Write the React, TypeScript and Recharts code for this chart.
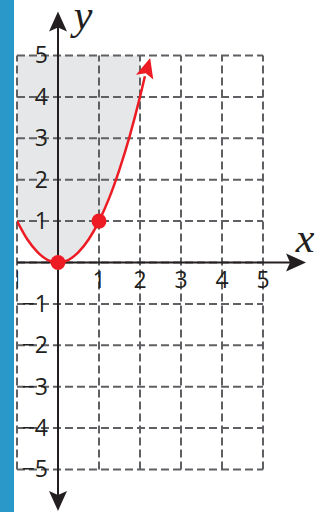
import React from 'react'
import { Area, ComposedChart, Line, ReferenceDot, ReferenceLine, Scatter, XAxis, YAxis } from 'recharts'

// curve y = x^2
const curveX = [-1, -0.75, -0.5, -0.25, 0, 0.25, 0.5, 0.75, 1, 1.25, 1.5, 1.75, 2, 2.12]
const curveY = [1, 0.56, 0.25, 0.06, 0, 0.06, 0.25, 0.56, 1, 1.56, 2.25, 3.06, 4, 4.5]
const shadeTop = [5, 5, 5, 5, 5, 5, 5, 5, 5, 5, 5, 5, 5, null]

const gridX = [-1, 0, 1, 2, 3, 4, 5]
const gridY = [-5, -4, -3, -2, -1, 0, 1, 2, 3, 4, 5]

const xTickValues = [-1, 1, 2, 3, 4, 5]
const xTickLabels = ['−1', '1', '2', '3', '4', '5']
const yTickValues = [5, 4, 3, 2, 1, -1, -2, -3, -4, -5]
const yTickLabels = ['5', '4', '3', '2', '1', '−1', '−2', '−3', '−4', '−5']

const markedX = [0, 1]
const markedY = [0, 1]

const RED = '#ed1c24'
const INK = '#231f20'
const GRID = '#5f6063'

const rows = curveX.map((x, i) => ({
  x,
  y: curveY[i],
  shade: shadeTop[i] == null ? null : [curveY[i], shadeTop[i]],
}))

const xLabelPts = xTickValues.map((v, i) => ({ x: v, y: 0, label: xTickLabels[i] }))
const yLabelPts = yTickValues.map((v, i) => ({ x: 0, y: v, label: yTickLabels[i] }))
const dots = markedX.map((x, i) => ({ x, y: markedY[i] }))
const endX = curveX[curveX.length - 1]
const endY = curveY[curveY.length - 1]

const tickFont = { fontFamily: 'Open Sans', fontSize: 23, fill: INK }
const nameFont = { fontFamily: 'Liberation Serif', fontStyle: 'italic', fontSize: 42, fill: INK }

// arrowhead with its tip at (x, y), pointing along angle (degrees)
const arrowHead = (x: number, y: number, angle: number, color: string) => (
  <path
    d="M0,0 L-20,-9 L-16,0 L-20,9 Z"
    fill={color}
    stroke="none"
    transform={`translate(${x},${y}) rotate(${angle})`}
  />
)

const App = () => {
  return (
    <div style={{ position: 'absolute', left: 0, top: 0, width: 322, height: 512, background: '#fff' }}>
      <ComposedChart
        width={322}
        height={512}
        data={rows}
        margin={{ top: 5.8, right: 9.8, bottom: 1.1, left: 17 }}
      >
        <XAxis type="number" dataKey="x" domain={[-1, 6.2]} hide allowDataOverflow />
        <YAxis type="number" dataKey="y" domain={[-6, 6.2]} hide allowDataOverflow />
        <Area
          type="monotone"
          dataKey="shade"
          fill="#e6e7e8"
          fillOpacity={1}
          stroke="none"
          isAnimationActive={false}
        />
        {gridX.map((v) => (
          <ReferenceLine
            key={`gx${v}`}
            segment={[{ x: v, y: -5 }, { x: v, y: 5 }]}
            stroke={GRID}
            strokeWidth={2}
            strokeDasharray="8 4"
          />
        ))}
        {gridY.map((v) => (
          <ReferenceLine
            key={`gy${v}`}
            segment={[{ x: -1, y: v }, { x: 5, y: v }]}
            stroke={GRID}
            strokeWidth={2}
            strokeDasharray="8 4"
          />
        ))}
        <ReferenceLine segment={[{ x: -1, y: 0 }, { x: 5.8, y: 0 }]} stroke={INK} strokeWidth={2} />
        <ReferenceLine segment={[{ x: 0, y: -5.8 }, { x: 0, y: 5.9 }]} stroke={INK} strokeWidth={2} />
        <ReferenceDot
          x={6.05}
          y={0}
          ifOverflow="visible"
          shape={(p: any) => (
            <g>
              {arrowHead(p.cx, p.cy, 0, INK)}
              <text x={p.cx - 1} y={p.cy - 10} textAnchor="middle" {...nameFont}>x</text>
            </g>
          )}
        />
        <ReferenceDot
          x={0}
          y={6.06}
          ifOverflow="visible"
          shape={(p: any) => (
            <g>
              {arrowHead(p.cx, p.cy, -90, INK)}
              <text x={p.cx + 25} y={p.cy + 17} textAnchor="middle" {...nameFont}>y</text>
            </g>
          )}
        />
        <ReferenceDot
          x={0}
          y={-6}
          ifOverflow="visible"
          shape={(p: any) => arrowHead(p.cx, p.cy, 90, INK)}
        />
        <Line
          type="monotone"
          dataKey="y"
          stroke={RED}
          strokeWidth={2.5}
          dot={false}
          activeDot={false}
          isAnimationActive={false}
        />
        <ReferenceDot
          x={endX}
          y={endY}
          ifOverflow="visible"
          shape={(p: any) => {
            const a = -74
            const r = (a * Math.PI) / 180
            return arrowHead(p.cx + 19 * Math.cos(r), p.cy + 19 * Math.sin(r), a, RED)
          }}
        />
        <Scatter
          data={dots}
          dataKey="y"
          isAnimationActive={false}
          shape={(p: any) => <circle cx={p.cx} cy={p.cy} r={7.5} fill={RED} />}
        />
        <Scatter
          data={xLabelPts}
          dataKey="y"
          isAnimationActive={false}
          shape={(p: any) => (
            <text
              x={p.payload.x < 0 ? p.cx + 6 : p.cx}
              y={p.cy + 26}
              textAnchor={p.payload.x < 0 ? 'end' : 'middle'}
              {...tickFont}
            >
              {p.payload.label}
            </text>
          )}
        />
        <Scatter
          data={yLabelPts}
          dataKey="y"
          isAnimationActive={false}
          shape={(p: any) => (
            <text x={p.cx - 10} y={p.cy + 8} textAnchor="end" {...tickFont}>
              {p.payload.label}
            </text>
          )}
        />
      </ComposedChart>
      <div style={{ position: 'absolute', left: 0, top: 0, width: 13.5, height: 512, background: '#2a98c9' }} />
    </div>
  )
}

export default App
